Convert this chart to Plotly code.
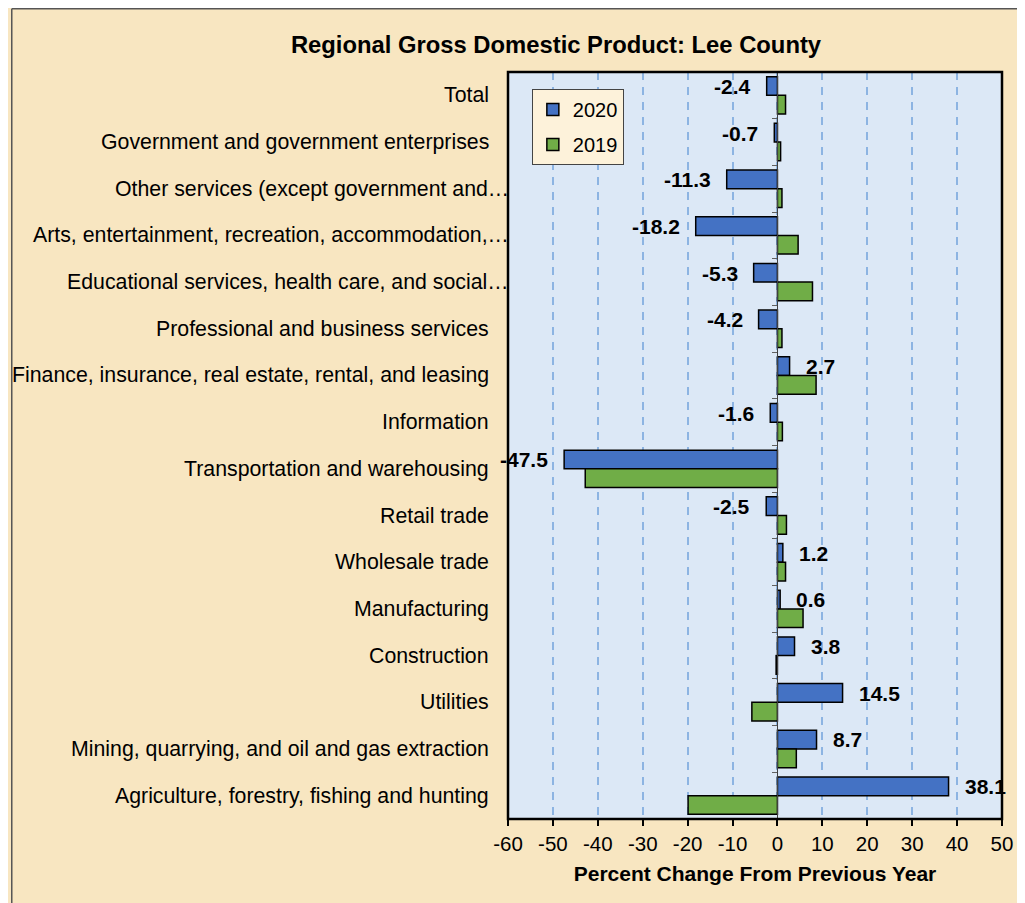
import plotly.graph_objects as go

categories = [
    "Total",
    "Government and government enterprises",
    "Other services (except government and…",
    "Arts, entertainment, recreation, accommodation,…",
    "Educational services, health care, and social…",
    "Professional and business services",
    "Finance, insurance, real estate, rental, and leasing",
    "Information",
    "Transportation and warehousing",
    "Retail trade",
    "Wholesale trade",
    "Manufacturing",
    "Construction",
    "Utilities",
    "Mining, quarrying, and oil and gas extraction",
    "Agriculture, forestry, fishing and hunting",
]
truncated = [False, False, True, True, True, False, False, False,
             False, False, False, False, False, False, False, False]
values_2020 = [-2.4, -0.7, -11.3, -18.2, -5.3, -4.2, 2.7, -1.6,
               -47.5, -2.5, 1.2, 0.6, 3.8, 14.5, 8.7, 38.1]
values_2019 = [1.8, 0.7, 1.0, 4.6, 7.8, 1.0, 8.6, 1.1,
               -42.8, 2.0, 1.8, 5.7, -0.3, -5.7, 4.2, -19.9]
x_ticks = [-60, -50, -40, -30, -20, -10, 0, 10, 20, 30, 40, 50]

FONT = "Liberation Sans, Arial, sans-serif"
# the page adds an 8px white margin at top and left; the figure fills the rest
W, H = 1017, 895
L, R, T, B = 500, 20, 64, 84
pw, ph = W - L - R, H - T - B

def px_x(p):
    return (p - L) / pw

def px_y(p):
    return (H - B - p) / ph

fig = go.Figure()
fig.add_trace(go.Bar(
    y=categories, x=values_2020, orientation="h", name="2020",
    legendgroup="a",
    marker=dict(color="#4472C4", line=dict(color="black", width=1.5)),
    cliponaxis=False,
))
fig.add_trace(go.Bar(
    y=categories, x=values_2019, orientation="h", name="2019",
    legendgroup="b",
    marker=dict(color="#70AD47", line=dict(color="black", width=1.5)),
    cliponaxis=False,
))

annotations = []
# value labels on 2020 bars
for c, v in zip(categories, values_2020):
    annotations.append(dict(
        x=v, y=c, xref="x", yref="y", text=f"<b>{v:.1f}</b>", showarrow=False,
        xanchor="left" if v >= 0 else "right", yanchor="middle",
        xshift=14 if v >= 0 else -14, yshift=9,
        font=dict(family=FONT, size=21, color="black"),
    ))
# category labels
for c, tr in zip(categories, truncated):
    annotations.append(dict(
        x=0, y=c, xref="paper", yref="y", text=c, showarrow=False,
        xanchor="right", yanchor="middle", xshift=3 if tr else -17,
        font=dict(family=FONT, size=21.3, color="black"),
    ))

shapes = [
    # page frame (left and top edges)
    dict(type="line", xref="paper", yref="paper", x0=px_x(0.75), x1=px_x(W + 5),
         y0=px_y(0.75), y1=px_y(0.75), line=dict(color="#555555", width=1.5)),
    dict(type="line", xref="paper", yref="paper", x0=px_x(0.75), x1=px_x(0.75),
         y0=px_y(0.75), y1=px_y(H + 5), line=dict(color="#555555", width=1.5)),
    # plot area frame
    dict(type="rect", xref="paper", yref="paper", x0=0, x1=1, y0=0, y1=1,
         line=dict(color="black", width=2.5), layer="above"),
]

fig.update_layout(
    width=W, height=H,
    margin=dict(l=L, r=R, t=T, b=B),
    paper_bgcolor="#F8E6C1",
    plot_bgcolor="#DCE8F6",
    barmode="group", bargap=0.2, bargroupgap=0,
    font=dict(family=FONT, size=20, color="black"),
    title=dict(text="<b>Regional Gross Domestic Product: Lee County</b>",
               x=548 / W, xref="container", xanchor="center",
               y=1 - 37 / H, yref="container", yanchor="middle",
               font=dict(family=FONT, size=23.8, color="black")),
    xaxis=dict(range=[-60, 50], tickvals=x_ticks,
               ticktext=[str(t) for t in x_ticks],
               showgrid=True, gridcolor="#8DB4E2", gridwidth=2,
               griddash="8px,7px", zeroline=False,
               ticks="outside", ticklen=6, tickwidth=2, tickcolor="black",
               showline=False,
               tickfont=dict(family=FONT, size=20.5, color="black"),
               title=dict(text="<b>Percent Change From Previous Year</b>",
                          font=dict(family=FONT, size=21, color="black"),
                          standoff=12)),
    yaxis=dict(autorange="reversed", type="category",
               anchor="free", position=60 / 110,
               showticklabels=False, showgrid=False, zeroline=False,
               showline=True, linecolor="#404040", linewidth=1,
               ticks="outside", tickson="boundaries", ticklen=5,
               tickcolor="#606060", tickwidth=1),
    legend=dict(x=px_x(524), y=px_y(81), xanchor="left", yanchor="top",
                bgcolor="#FDF2DA", bordercolor="#444444", borderwidth=1,
                font=dict(family=FONT, size=20, color="black"),
                tracegroupgap=6, itemwidth=30),
    annotations=annotations,
    shapes=shapes,
    showlegend=True,
)

fig.write_html("out.html")
